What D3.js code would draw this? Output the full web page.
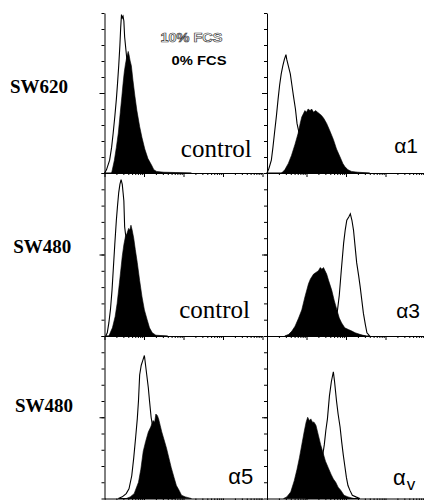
<!DOCTYPE html>
<html>
<head>
<meta charset="utf-8">
<script src="https://cdn.jsdelivr.net/npm/d3@7"></script>
<style>
  body { margin: 0; background: #fff; }
  svg { display: block; }
</style>
</head>
<body>
<svg id="mainsvg" width="424" height="500"></svg>
<script>
// histogram points: [log10 fluorescence, % of panel height]
const sw620Control10 = [[0,0],[0.05,2],[0.13,8],[0.18,16],[0.22,25],[0.26,35],[0.30,46],[0.33,56],[0.36,67],[0.39,80],[0.41,91],[0.43,99],[0.45,97],[0.47,98],[0.49,95],[0.51,85],[0.55,75],[0.65,50],[0.75,30],[0.85,15],[0.95,6],[1.1,2],[1.3,0]]
const sw620Control0 = [[0.18,0],[0.25,8],[0.30,16],[0.35,25],[0.40,38],[0.44,48],[0.47,56],[0.50,63],[0.53,68],[0.56,72],[0.58,74],[0.60,76],[0.62,74],[0.65,70],[0.68,67],[0.72,58],[0.77,48],[0.82,39],[0.89,29],[0.95,22],[1.02,15],[1.1,9],[1.19,5],[1.25,2],[1.32,1],[1.5,0.5],[1.8,0.3],[2.2,0]]
const sw620A1_10 = [[0,0],[0.05,3],[0.11,8],[0.15,16],[0.19,25],[0.24,36],[0.28,46],[0.32,55],[0.36,62],[0.40,67],[0.44,71],[0.48,74],[0.50,71],[0.54,67],[0.59,62],[0.63,55],[0.67,48],[0.72,40],[0.76,31],[0.82,24],[0.9,15],[1.0,8],[1.1,4],[1.2,2],[1.4,0]]
const sw620A1_0 = [[0.37,0],[0.45,2],[0.54,6],[0.62,11],[0.71,18],[0.79,25],[0.84,31],[0.88,35],[0.92,37],[0.96,39],[1.0,38],[1.04,40],[1.09,39],[1.13,40],[1.18,38],[1.23,39],[1.28,38],[1.33,37],[1.38,36],[1.44,34],[1.51,31],[1.58,27],[1.68,21],[1.76,15],[1.85,10],[1.92,6],[1.97,4],[2.05,2],[2.14,1],[2.3,0.5],[2.6,0]]
const sw480Control10 = [[0.03,0],[0.07,2],[0.11,8],[0.15,16],[0.19,28],[0.22,40],[0.26,56],[0.30,71],[0.33,80],[0.36,88],[0.39,93],[0.42,96],[0.45,93],[0.47,88],[0.49,83],[0.51,67],[0.53,63],[0.6,52],[0.7,35],[0.8,20],[0.9,10],[1.0,4],[1.15,1],[1.3,0]]
const sw480Control0 = [[0.11,0],[0.2,5],[0.27,12],[0.32,20],[0.38,33],[0.45,49],[0.49,56],[0.53,61],[0.57,63],[0.61,66],[0.64,65],[0.67,68],[0.70,65],[0.74,60],[0.78,53],[0.83,45],[0.89,34],[0.95,24],[1.01,16],[1.08,10],[1.14,5],[1.21,2],[1.3,0.5],[1.6,0]]
const sw480A3_10 = [[1.35,0],[1.5,2],[1.6,5],[1.7,9],[1.78,15],[1.83,25],[1.88,40],[1.94,57],[1.98,65],[2.02,71],[2.07,73],[2.11,75],[2.15,71],[2.19,65],[2.23,55],[2.27,45],[2.32,37],[2.36,30],[2.4,22],[2.44,14],[2.49,7],[2.53,2],[2.6,0]]
const sw480A3_0 = [[0.45,0],[0.55,1],[0.63,3],[0.71,6],[0.8,11],[0.88,16],[0.96,24],[1.05,32],[1.1,35],[1.18,38],[1.24,39],[1.3,40],[1.35,42],[1.39,41],[1.43,42],[1.47,40],[1.51,38],[1.56,34],[1.64,28],[1.7,22],[1.77,16],[1.83,11],[1.89,8],[1.97,5],[2.06,4],[2.15,3],[2.23,2],[2.35,1],[2.5,0]]
const sw480A5_10 = [[0.35,0],[0.45,1],[0.55,3],[0.62,6],[0.69,14],[0.74,25],[0.79,38],[0.83,49],[0.86,60],[0.89,76],[0.93,82],[0.97,85],[1.01,88],[1.04,82],[1.07,76],[1.11,68],[1.14,60],[1.18,50],[1.28,35],[1.38,20],[1.48,10],[1.58,4],[1.7,1],[1.8,0]]
const sw480A5_0 = [[0.55,0],[0.65,1],[0.75,3],[0.86,10],[0.92,18],[0.98,29],[1.04,35],[1.11,41],[1.17,44],[1.23,48],[1.27,47],[1.30,52],[1.34,51],[1.37,49],[1.41,45],[1.45,41],[1.51,36],[1.57,31],[1.63,25],[1.69,19],[1.76,13],[1.82,8],[1.89,5],[1.95,2],[2.05,1],[2.2,0]]
const sw480Av10 = [[1.0,0],[1.1,3],[1.2,8],[1.3,15],[1.4,25],[1.45,33],[1.49,42],[1.53,49],[1.58,63],[1.63,72],[1.68,78],[1.71,72],[1.76,60],[1.8,52],[1.85,44],[1.89,35],[1.93,27],[1.97,20],[2.01,13],[2.05,8],[2.1,5],[2.16,2],[2.25,1],[2.35,0]]
const sw480Av0 = [[0.42,0],[0.5,1],[0.6,4],[0.69,11],[0.76,18],[0.82,25],[0.88,33],[0.94,41],[0.99,47],[1.03,50],[1.07,48],[1.11,49],[1.15,47],[1.19,47],[1.24,45],[1.3,39],[1.36,33],[1.42,28],[1.48,23],[1.55,19],[1.62,15],[1.68,12],[1.74,10],[1.8,7],[1.87,5],[1.95,2],[2.05,1],[2.2,0]]

const rowLabels = ['SW620', 'SW480', 'SW480']
const panelNames = ['control', 'α1', 'control', 'α3', 'α5', 'α']
const legendLabels = ['10% FCS', '0% FCS']

const panels = [
  {row: 0, col: 0, open: sw620Control10, filled: sw620Control0, name: panelNames[0]},
  {row: 0, col: 1, open: sw620A1_10, filled: sw620A1_0, name: panelNames[1]},
  {row: 1, col: 0, open: sw480Control10, filled: sw480Control0, name: panelNames[2]},
  {row: 1, col: 1, open: sw480A3_10, filled: sw480A3_0, name: panelNames[3]},
  {row: 2, col: 0, open: sw480A5_10, filled: sw480A5_0, name: panelNames[4]},
  {row: 2, col: 1, open: sw480Av10, filled: sw480Av0, name: panelNames[5], sub: 'v'}
]

// layout
let colX = [104.5, 267]
let rowTop = [13, 173, 336]
let rowBottom = [173, 336, 498.5]
let panelW = 158
let rowLabelPos = [[10, 93.3], [13.3, 253.3], [15, 411.7]]
// [dx from right edge, dy from baseline, font size, family]
let nameStyle = [
  [10.8, 16.3, 25, 'serif'], [7, 20, 21, 'sans'],
  [12.5, 18, 25, 'serif'], [5, 18, 21, 'sans'],
  [9.2, 14.2, 22, 'sans'], [17, 13.5, 22, 'sans']
]

const svg = d3.select('#mainsvg')
const x = d3.scaleLog().domain([1, 1e4]).range([0, panelW])
const majorTicks = [1, 10, 100, 1000, 10000]
const minorTicks = x.ticks().filter(v => !majorTicks.includes(v))

panels.forEach((p, i) => {
  let top = rowTop[p.row], bottom = rowBottom[p.row]
  let h = bottom - top
  let y = d3.scaleLinear().domain([0, 100]).range([h, 0])

  const g = svg.append('g')
    .attr('transform', `translate(${colX[p.col]},${top})`)

  let area = d3.area()
    .x(d => x(Math.pow(10, d[0])))
    .y0(h)
    .y1(d => y(d[1]))

  g.append('path')
    .datum(p.open)
    .attr('d', area)
    .attr('fill', 'white')
    .attr('stroke', 'black')
    .attr('stroke-width', 1.1)

  g.append('path')
    .datum(p.filled)
    .attr('d', area)
    .attr('fill', 'black')
    .attr('stroke', 'black')
    .attr('stroke-width', 0.6)

  // x axis (log ticks hanging below the baseline)
  g.append('g')
    .attr('transform', `translate(0,${h})`)
    .call(d3.axisBottom(x).tickValues(minorTicks).tickSize(2).tickSizeOuter(0).tickFormat(''))
  g.append('g')
    .attr('transform', `translate(0,${h})`)
    .call(d3.axisBottom(x).tickValues(majorTicks).tickSize(4).tickFormat(''))
    .call(a => a.select('.domain').remove())

  // y axis
  g.append('g')
    .call(d3.axisLeft(y).tickValues(d3.range(0, 101, 10)).tickSize(3).tickSizeOuter(0).tickFormat(''))
  g.append('g')
    .call(d3.axisLeft(y).tickValues([50]).tickSize(5).tickFormat(''))
    .call(a => a.select('.domain').remove())

  g.selectAll('.domain, .tick line').attr('stroke', 'black').attr('stroke-width', 1)

  let s = nameStyle[i]
  let t = g.append('text')
    .attr('x', panelW - s[0])
    .attr('y', h - s[1])
    .attr('text-anchor', 'end')
    .attr('font-size', s[2])
    .attr('font-family', s[3] == 'serif' ? 'Liberation Serif, serif' : 'Liberation Sans, Arial, sans-serif')
    .attr('fill', 'black')
    .text(p.name)
  if (p.sub) {
    t.attr('text-anchor', 'start').attr('x', panelW - 32)
    t.append('tspan').attr('dy', 5).attr('dx', 1).attr('font-size', 17).text(p.sub)
  }
})

// row labels
svg.selectAll('.rowlabel')
  .data(rowLabels)
  .join('text')
  .attr('class', 'rowlabel')
  .attr('x', (d, i) => rowLabelPos[i][0])
  .attr('y', (d, i) => rowLabelPos[i][1])
  .attr('font-family', 'Liberation Serif, serif')
  .attr('font-weight', 'bold')
  .attr('font-size', 19)
  .text(d => d)

// legend
svg.append('text')
  .attr('x', 160.5).attr('y', 42)
  .attr('font-family', 'Liberation Sans, Arial, sans-serif')
  .attr('font-weight', 'bold')
  .attr('font-size', 12)
  .attr('textLength', 62)
  .attr('lengthAdjust', 'spacingAndGlyphs')
  .attr('fill', 'white')
  .attr('stroke', '#333')
  .attr('stroke-width', 0.6)
  .text(legendLabels[0])

svg.append('text')
  .attr('x', 171.5).attr('y', 64.5)
  .attr('font-family', 'Liberation Sans, Arial, sans-serif')
  .attr('font-weight', 'bold')
  .attr('font-size', 12.5)
  .attr('textLength', 55)
  .attr('lengthAdjust', 'spacingAndGlyphs')
  .attr('fill', 'black')
  .text(legendLabels[1])
</script>
</body>
</html>
